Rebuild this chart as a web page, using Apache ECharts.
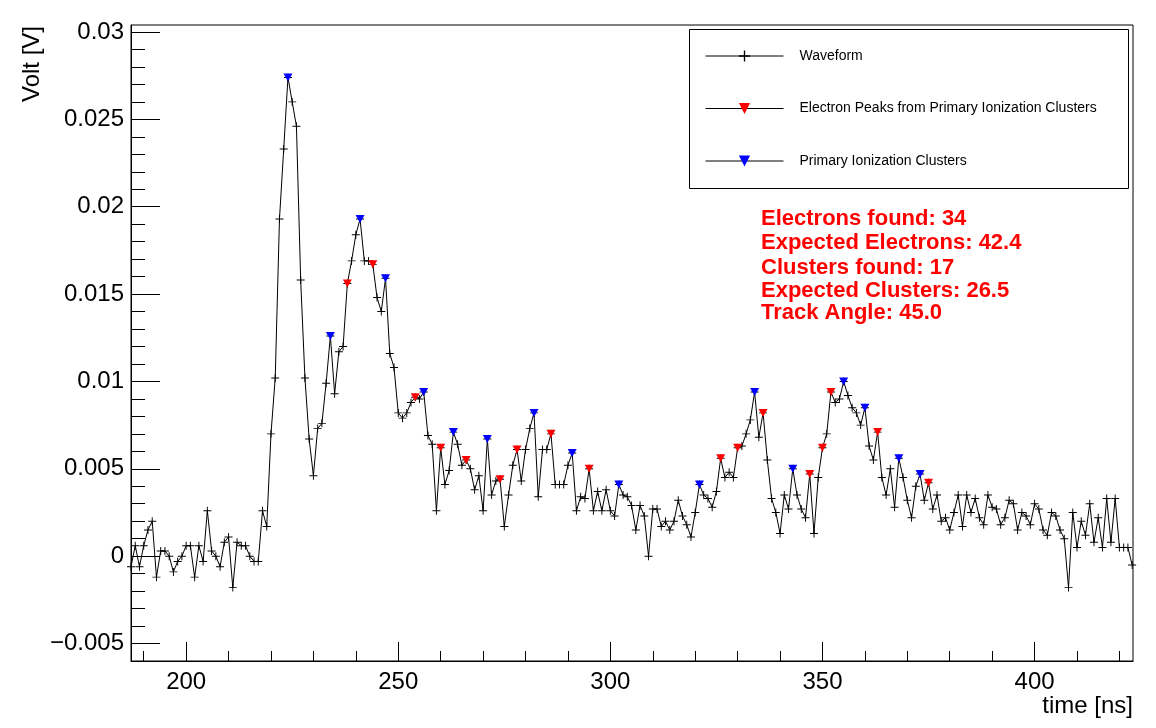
<!DOCTYPE html>
<html>
<head>
<meta charset="utf-8">
<script src="https://cdn.jsdelivr.net/npm/echarts@6/dist/echarts.min.js"></script>
<style>
html,body{margin:0;padding:0;background:#fff;}
#chart{width:1156px;height:728px;}
</style>
</head>
<body>
<div id="chart"></div>
<script>
// ---- data ----
const times = [
  187,188,189,190,191,192,193,194,195,196,
  197,198,199,200,201,202,203,204,205,206,
  207,208,209,210,211,212,213,214,215,216,
  217,218,219,220,221,222,223,224,225,226,
  227,228,229,230,231,232,233,234,235,236,
  237,238,239,240,241,242,243,244,245,246,
  247,248,249,250,251,252,253,254,255,256,
  257,258,259,260,261,262,263,264,265,266,
  267,268,269,270,271,272,273,274,275,276,
  277,278,279,280,281,282,283,284,285,286,
  287,288,289,290,291,292,293,294,295,296,
  297,298,299,300,301,302,303,304,305,306,
  307,308,309,310,311,312,313,314,315,316,
  317,318,319,320,321,322,323,324,325,326,
  327,328,329,330,331,332,333,334,335,336,
  337,338,339,340,341,342,343,344,345,346,
  347,348,349,350,351,352,353,354,355,356,
  357,358,359,360,361,362,363,364,365,366,
  367,368,369,370,371,372,373,374,375,376,
  377,378,379,380,381,382,383,384,385,386,
  387,388,389,390,391,392,393,394,395,396,
  397,398,399,400,401,402,403,404,405,406,
  407,408,409,410,411,412,413,414,415,416,
  417,418,419,420,421,422,423
];
const volts = [
  -0.0006, 0.0006,-0.0006, 0.0006, 0.0015, 0.0020,-0.0012, 0.0003, 0.0003, 0.0000,
  -0.0009,-0.0003, 0.0000, 0.0006, 0.0006,-0.0012, 0.0006,-0.0003, 0.0026, 0.0003,
   0.0000,-0.0006, 0.0008, 0.0011,-0.0018, 0.0008, 0.0006, 0.0006, 0.0000,-0.0003,
  -0.0003, 0.0026, 0.0017, 0.0070, 0.0102, 0.0193, 0.0233, 0.0274, 0.0260, 0.0246,
   0.0158, 0.0102, 0.0067, 0.0046, 0.0073, 0.0076, 0.0099, 0.0126, 0.0093, 0.0117,
   0.0120, 0.0156, 0.0169, 0.0184, 0.0193, 0.0169, 0.0169, 0.0167, 0.0148, 0.0140,
   0.0159, 0.0116, 0.0108, 0.0082, 0.0079, 0.0082, 0.0088, 0.0091, 0.0090, 0.0094,
   0.0069, 0.0064, 0.0026, 0.0062, 0.0041, 0.0049, 0.0071, 0.0064, 0.0052, 0.0055,
   0.0050, 0.0038, 0.0046, 0.0026, 0.0067, 0.0035, 0.0043, 0.0044, 0.0017, 0.0035,
   0.0052, 0.0061, 0.0043, 0.0061, 0.0073, 0.0082, 0.0034, 0.0061, 0.0061, 0.0070,
   0.0041, 0.0041, 0.0041, 0.0052, 0.0059, 0.0026, 0.0034, 0.0033, 0.0050, 0.0026,
   0.0037, 0.0026, 0.0038, 0.0026, 0.0023, 0.0041, 0.0035, 0.0034, 0.0029, 0.0015,
   0.0029, 0.0023, 0.0000, 0.0027, 0.0027, 0.0017, 0.0020, 0.0015, 0.0020, 0.0032,
   0.0023, 0.0018, 0.0011, 0.0025, 0.0041, 0.0035, 0.0033, 0.0028, 0.0037, 0.0056,
   0.0045, 0.0048, 0.0045, 0.0062, 0.0063, 0.0070, 0.0078, 0.0094, 0.0068, 0.0082,
   0.0055, 0.0033, 0.0025, 0.0013, 0.0035, 0.0027, 0.0050, 0.0035, 0.0027, 0.0022,
   0.0047, 0.0013, 0.0045, 0.0062, 0.0070, 0.0094, 0.0088, 0.0090, 0.0100, 0.0092,
   0.0085, 0.0082, 0.0075, 0.0085, 0.0063, 0.0055, 0.0071, 0.0045, 0.0035, 0.0050,
   0.0028, 0.0056, 0.0045, 0.0032, 0.0022, 0.0040, 0.0047, 0.0032, 0.0042, 0.0027,
   0.0035, 0.0020, 0.0022, 0.0015, 0.0025, 0.0035, 0.0017, 0.0035, 0.0025, 0.0033,
   0.0022, 0.0018, 0.0035, 0.0028, 0.0027, 0.0018, 0.0022, 0.0032, 0.0030, 0.0015,
   0.0025, 0.0023, 0.0018, 0.0030, 0.0027, 0.0015, 0.0012, 0.0025, 0.0023, 0.0015,
   0.0010,-0.0018, 0.0025, 0.0005, 0.0020, 0.0012, 0.0030, 0.0008, 0.0022, 0.0005,
   0.0033, 0.0008, 0.0033, 0.0005, 0.0005, 0.0005,-0.0005
];
const clusterTimes  = [224,234,241,247,256,263,271,282,291,302,321,334,343,355,360,368,373];
const electronTimes = [238,244,254,260,266,274,278,286,295,326,330,336,347,350,352,363,375];

const xMajorTicks = [200,250,300,350,400];
const xMinorTicks = [190,210,220,230,240,260,270,280,290,310,320,330,340,360,370,380,390,410,420];
const yMajorTicks = [-0.005,0,0.005,0.01,0.015,0.02,0.025,0.03];
const yTickLabels = ['\u22120.005','0','0.005','0.01','0.015','0.02','0.025','0.03'];
const yMinorTicks = [-0.004,-0.003,-0.002,-0.001,0.001,0.002,0.003,0.004,0.006,0.007,0.008,0.009,
  0.011,0.012,0.013,0.014,0.016,0.017,0.018,0.019,0.021,0.022,0.023,0.024,0.026,0.027,0.028,0.029];

const seriesNames = ['Waveform','Electron Peaks from Primary Ionization Clusters','Primary Ionization Clusters'];
const infoLines = ['Electrons found: 34','Expected Electrons: 42.4','Clusters found: 17','Expected Clusters: 26.5','Track Angle: 45.0'];
const xTitle = 'time [ns]';
const yTitle = 'Volt [V]';

// ---- build ----
const FONT = '"Liberation Sans", Arial, Helvetica, sans-serif';
const waveData = times.map((t,i)=>[t, volts[i]]);
function lookup(t){ const i = times.indexOf(t); return [t, volts[i]]; }
const electronData = electronTimes.map(lookup);
const clusterData = clusterTimes.map(lookup);

const CROSS = 'path://M4.4,0H5.6V4.4H10V5.6H5.6V10H4.4V5.6H0V4.4H4.4Z';
const TRI = 'path://M0,0H10L5,8.66Z';

const X_MIN = 187, X_MAX = 423.2, Y_MIN = -0.006, Y_MAX = 0.0304;

const infoY = [219, 243, 268, 291, 313];

const chart = echarts.init(document.getElementById('chart'), null, {renderer:'canvas'});
const option = {
  animation:false,
  backgroundColor:'#fff',
  grid:{left:131, top:25, width:1002, height:636, show:true, borderColor:'#000', borderWidth:1, backgroundColor:'#fff'},
  xAxis:[
    {type:'value', min:X_MIN, max:X_MAX, position:'bottom',
     axisLine:{show:true, onZero:false, lineStyle:{color:'#000', width:1}},
     axisTick:{show:true, inside:true, length:19, customValues:xMajorTicks, lineStyle:{color:'#000', width:1}},
     axisLabel:{customValues:xMajorTicks, fontSize:24, color:'#000', margin:9, fontFamily:FONT},
     splitLine:{show:false}},
    {type:'value', min:X_MIN, max:X_MAX, position:'bottom',
     axisLine:{show:false, onZero:false},
     axisTick:{show:true, inside:true, length:10, customValues:xMinorTicks, lineStyle:{color:'#000', width:1}},
     axisLabel:{show:false}, splitLine:{show:false}}
  ],
  yAxis:[
    {type:'value', min:Y_MIN, max:Y_MAX, position:'left',
     axisLine:{show:true, onZero:false, lineStyle:{color:'#000', width:1}},
     axisTick:{show:true, inside:true, length:29, customValues:yMajorTicks, lineStyle:{color:'#000', width:1}},
     axisLabel:{customValues:yMajorTicks, fontSize:24, color:'#000', margin:7, fontFamily:FONT,
       formatter:function(v){
         let best=0, d=1e9;
         yMajorTicks.forEach((m,i)=>{ if(Math.abs(m-v)<d){d=Math.abs(m-v); best=i;} });
         return yTickLabels[best];
       }},
     splitLine:{show:false}},
    {type:'value', min:Y_MIN, max:Y_MAX, position:'left',
     axisLine:{show:false, onZero:false},
     axisTick:{show:true, inside:true, length:14, customValues:yMinorTicks, lineStyle:{color:'#000', width:1}},
     axisLabel:{show:false}, splitLine:{show:false}}
  ],
  legend:{
    orient:'vertical', left:689, top:29, z:6,
    padding:[20,16,20,16], itemGap:38.5, itemWidth:78, itemHeight:14,
    borderWidth:0, backgroundColor:'transparent',
    selectedMode:false,
    lineStyle:{color:'#000', width:1, opacity:1},
    textStyle:{fontSize:14, color:'#000', fontFamily:FONT, padding:[0,0,0,11]},
    data:seriesNames
  },
  series:[
    {name:seriesNames[0], type:'line', data:waveData, xAxisIndex:0, yAxisIndex:0,
     symbol:CROSS, symbolSize:8, showAllSymbol:true,
     itemStyle:{color:'#000'}, lineStyle:{color:'#000', width:1}, z:2},
    {name:seriesNames[1], type:'line', data:electronData, xAxisIndex:0, yAxisIndex:0,
     symbol:TRI, symbolSize:[9,8], showAllSymbol:true,
     itemStyle:{color:'#ff0000'}, lineStyle:{color:'#000', width:0, opacity:0}, z:3},
    {name:seriesNames[2], type:'line', data:clusterData, xAxisIndex:0, yAxisIndex:0,
     symbol:TRI, symbolSize:[9,8], showAllSymbol:true,
     itemStyle:{color:'#0000ff'}, lineStyle:{color:'#000', width:0, opacity:0}, z:3}
  ],
  graphic:[
    {type:'rect', z:4, shape:{x:689.5, y:29.5, width:439, height:159}, style:{fill:'#fff', stroke:'#000', lineWidth:1}},
    {type:'text', x:1133, y:706, style:{text:xTitle, align:'right', verticalAlign:'middle', fontSize:24, fontFamily:FONT, fill:'#000'}},
    {type:'text', x:32, y:26, rotation:Math.PI/2, style:{text:yTitle, align:'right', verticalAlign:'middle', fontSize:24, fontFamily:FONT, fill:'#000'}}
  ].concat(infoLines.map((s,i)=>({type:'text', x:761, y:infoY[i], z:5,
     style:{text:s, verticalAlign:'middle', fontSize:22, fontWeight:'bold', fontFamily:FONT, fill:'#ff0000'}})))
};
chart.setOption(option);
</script>
</body>
</html>
